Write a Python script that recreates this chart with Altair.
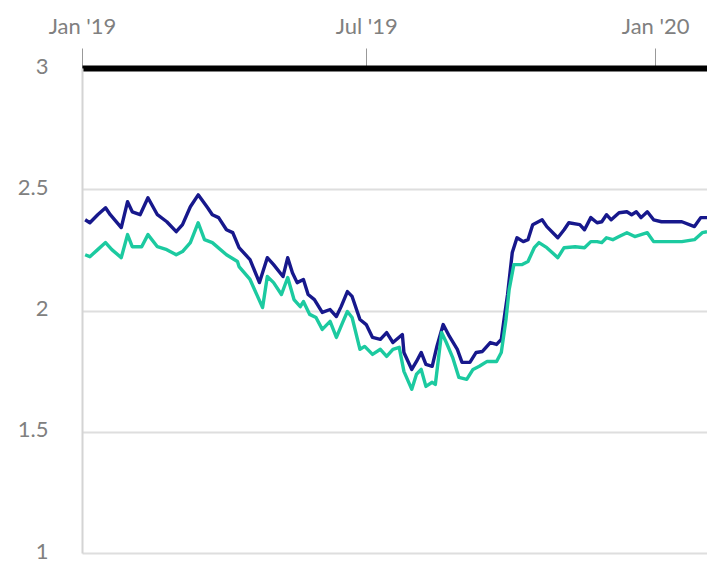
import altair as alt
import pandas as pd

# Days after 1 Jan 2019
navy_days = [2, 5, 10, 15, 18, 25, 29, 32, 37, 42, 48, 54, 60, 64, 69, 74, 80, 83, 87, 92, 96,
             100, 107, 113, 118, 122, 128, 131, 134, 137, 141, 144, 148, 153, 158, 162, 165, 169,
             172, 177, 181, 185, 190, 194, 198, 204, 205, 210, 213, 216, 219, 223, 226, 230, 234,
             239, 242, 247, 251, 255, 260, 264, 267, 269, 271, 274, 277, 281, 284, 287, 293, 296,
             303, 307, 310, 317, 320, 324, 328, 331, 334, 337, 342, 347, 350, 353, 356, 360, 364,
             369, 375, 382, 390, 394, 398]
navy_vals = [2.374, 2.362, 2.395, 2.424, 2.395, 2.342, 2.449, 2.407, 2.395, 2.465, 2.395, 2.366,
             2.325, 2.354, 2.428, 2.477, 2.424, 2.395, 2.383, 2.333, 2.321,
             2.259, 2.210, 2.115, 2.218, 2.189, 2.140, 2.218, 2.156, 2.115, 2.128, 2.066, 2.045,
             1.992, 2.004, 1.975, 2.016, 2.078,
             2.058, 1.963, 1.942, 1.889, 1.881, 1.909, 1.868, 1.901, 1.827, 1.757, 1.790, 1.827,
             1.778, 1.770, 1.852, 1.942, 1.893,
             1.840, 1.786, 1.786, 1.827, 1.831, 1.868, 1.860, 1.881, 1.975, 2.066, 2.239, 2.300,
             2.284, 2.292, 2.354, 2.374, 2.346,
             2.300, 2.333, 2.362, 2.354, 2.333, 2.383, 2.362, 2.366, 2.395, 2.374, 2.403, 2.407,
             2.395, 2.407, 2.383, 2.407, 2.374,
             2.366, 2.366, 2.366, 2.346, 2.383, 2.383]

teal_days = [2, 5, 10, 15, 19, 25, 29, 32, 38, 42, 48, 54, 60, 64, 69, 74, 78, 83, 92, 99,
             100, 107, 115, 118, 122, 127, 131, 135, 139, 141, 145, 149, 153, 158, 162, 166, 169,
             172, 177, 180, 185, 190, 194, 198, 202, 205, 210, 213, 216, 219, 223, 225, 229, 232,
             236, 240, 245, 249, 253, 258, 264, 267, 270, 272, 275, 280, 284, 288, 291, 296, 303,
             307, 314, 320, 324, 328, 331, 334, 338, 342, 347, 352, 356, 360, 364, 373, 382, 390,
             395, 398]
teal_vals = [2.230, 2.222, 2.251, 2.280, 2.251, 2.218, 2.313, 2.263, 2.263, 2.313, 2.263, 2.251,
             2.230, 2.243, 2.280, 2.362, 2.292, 2.280, 2.230, 2.202,
             2.181, 2.128, 2.012, 2.140, 2.115, 2.066, 2.136, 2.045, 2.016, 2.037, 1.984, 1.971,
             1.922, 1.955, 1.889, 1.951, 1.996,
             1.971, 1.840, 1.852, 1.819, 1.840, 1.811, 1.840, 1.848, 1.749, 1.675, 1.737, 1.757,
             1.687, 1.704, 1.695, 1.909, 1.868,
             1.807, 1.724, 1.716, 1.757, 1.770, 1.790, 1.790, 1.827, 1.963, 2.086, 2.189, 2.189,
             2.202, 2.259, 2.280, 2.259, 2.218,
             2.259, 2.263, 2.259, 2.284, 2.284, 2.280, 2.300, 2.292, 2.305, 2.321, 2.305, 2.313,
             2.321, 2.284, 2.284, 2.284, 2.292,
             2.321, 2.325]

series_names = ["Navy", "Teal"]
series_colors = ["#17188c", "#1ccaa0"]
tick_dates = ["2019-01-01", "2019-07-01", "2020-01-01"]
y_ticks = [1, 1.5, 2, 2.5, 3]

start = pd.Timestamp("2019-01-01")
df = pd.concat([
    pd.DataFrame({"date": [(start + pd.Timedelta(days=d)).strftime("%Y-%m-%d") for d in navy_days],
                  "value": navy_vals, "series": series_names[0]}),
    pd.DataFrame({"date": [(start + pd.Timedelta(days=d)).strftime("%Y-%m-%d") for d in teal_days],
                  "value": teal_vals, "series": series_names[1]}),
])

FONT = "Lato"
chart = alt.Chart(df).mark_line(strokeWidth=3.4, clip=True, strokeJoin="round").encode(
    x=alt.X("date:T",
            scale=alt.Scale(domain=[alt.DateTime(year=2019, month=1, date=1),
                                    alt.DateTime(year=2020, month=2, date=3)]),
            axis=alt.Axis(orient="top", title=None, grid=False, labelFlush=False,
                          values=[alt.DateTime(year=int(t[:4]), month=int(t[5:7]), date=1) for t in tick_dates],
                          format="%b '%y", tickSize=20, tickColor="#999999", tickWidth=1,
                          domainColor="#000000", domainWidth=6, labelPadding=10,
                          labelFont=FONT, labelFontSize=22, labelColor="#808080")),
    y=alt.Y("value:Q", scale=alt.Scale(domain=[1, 3], nice=False),
            axis=alt.Axis(title=None, values=y_ticks, format=".1~f", ticks=False,
                          labelPadding=34, labelOffset=-2, domainColor="#d4d4d4", domainWidth=2,
                          gridColor="#dedede", gridWidth=2,
                          labelFont=FONT, labelFontSize=22, labelColor="#808080")),
    color=alt.Color("series:N", scale=alt.Scale(domain=series_names, range=series_colors), legend=None),
    order=alt.Order("date:T"),
).properties(
    width=625, height=485,
    autosize=alt.AutoSizeParams(type="none"),
    padding={"left": 82, "top": 68, "right": 0, "bottom": 9},
).configure_view(stroke=None)

chart.save("out.html", embed_options={"renderer": "svg", "actions": False})
